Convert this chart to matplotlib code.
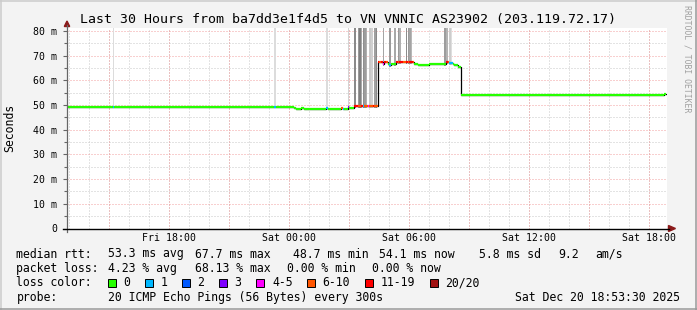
import matplotlib
matplotlib.use('Agg')
import matplotlib.pyplot as plt
import matplotlib.dates as mdates
from matplotlib.lines import Line2D
from matplotlib.patches import Polygon, Rectangle
from datetime import datetime, timedelta
import numpy as np

W, H = 697, 310
FONT = 'DejaVu Sans Mono'

title = "Last 30 Hours from ba7dd3e1f4d5 to VN VNNIC AS23902 (203.119.72.17)"
end_time = datetime(2025, 12, 20, 18, 53, 30)
span_hours = 30
first_step = datetime(2025, 12, 19, 12, 55, 0)
step_minutes = 5

# median rtt (ms) and loss class per 5-minute step, as runs
run_len = [27, 1, 96, 1, 11, 1, 3, 2, 13, 1, 8, 1, 1, 2, 1, 3,
           1, 1, 1, 1, 1, 1, 1, 1, 1, 1, 1, 1, 1, 1,
           1, 1, 1, 1, 1, 1, 1, 1, 1, 2,
           1, 1, 1, 1, 1, 1, 1, 1, 1, 1, 1,
           1, 1, 1, 1, 1, 1, 1, 1, 1, 1, 1, 1, 1, 1, 1, 1, 1, 1, 1,
           1, 1, 1, 1, 1, 2, 2, 122, 1]
run_med = [49.4, 49.4, 49.4, 49.4, 49.4, 49.0, 48.5, 48.8, 48.5, 48.6, 48.5, 48.9, 48.4, 48.5, 49.2, 48.6,
           49.8, 49.8, 49.8, 49.8, 49.8, 49.8, 49.8, 49.8, 49.8, 49.8, 49.8, 49.8, 49.8, 49.8,
           67.6, 67.6, 67.6, 66.8, 67.3, 67.3, 66.6, 66.3, 66.6, 66.6,
           67.6, 67.6, 67.6, 67.6, 67.6, 67.6, 67.6, 67.6, 67.6, 67.6, 67.6,
           66.6, 66.5, 66.4, 66.3, 66.2, 66.2, 66.3, 66.3, 66.4, 66.5, 66.6, 66.6, 66.6, 66.7, 66.7, 66.6, 66.6, 66.7, 66.6,
           67.3, 67.3, 66.9, 67.0, 66.8, 66.2, 65.6, 53.9, 54.4]
run_loss = [0, 1, 0, 1, 0, 0, 0, 0, 0, 1, 0, 5, 1, 0, 3, 0,
            6, 6, 5, 5, 6, 1, 5, 5, 4, 5, 5, 6, 5, 5,
            6, 5, 6, 4, 6, 5, 0, 1, 0, 0,
            6, 5, 6, 6, 5, 5, 6, 5, 6, 6, 5,
            0, 0, 0, 0, 0, 0, 0, 0, 0, 0, 0, 0, 0, 0, 0, 0, 0, 0, 0,
            6, 5, 1, 1, 0, 0, 0, 0, 0]

loss_labels = ['0', '1', '2', '3', '4-5', '6-10', '11-19', '20/20']
loss_colors = ['#26ff00', '#00b8ff', '#0059ff', '#7e00ff', '#ff00ff', '#ff5500', '#ff0000', '#a01010']

# smoke (spread of the pings) reaching above the chart at these steps
smoke_steps = [27, 124, 155, 168, 172, 174, 175, 176, 177, 178, 179, 181, 182, 184, 185,
               189, 193, 196, 198, 199, 203, 204, 205, 206, 226, 227, 229, 230]
smoke_shade = ['#dcdcdc', '#dcdcdc', '#dcdcdc', '#d4d4d4', '#8a8a8a', '#9a9a9a', '#7f7f7f', '#a8a8a8',
               '#8f8f8f', '#9c9c9c', '#b0b0b0', '#c8c8c8', '#d0d0d0', '#a0a0a0', '#8a8a8a',
               '#a5a5a5', '#9a9a9a', '#a8a8a8', '#999999', '#b0b0b0', '#8c8c8c', '#9a9a9a', '#a4a4a4', '#b8b8b8',
               '#9d9d9d', '#b4b4b4', '#cdcdcd', '#dedede']
smoke_top = 95.0

y_ticks = [0, 10, 20, 30, 40, 50, 60, 70, 80]
y_tick_labels = ['0', '10 m', '20 m', '30 m', '40 m', '50 m', '60 m', '70 m', '80 m']
y_minor = [5, 15, 25, 35, 45, 55, 65, 75]

row_rtt = [('median rtt:', 16.4), ('53.3 ms avg', 107.6), ('67.7 ms max', 194.7),
           ('48.7 ms min', 293.0), ('54.1 ms now', 378.7), ('5.8 ms sd', 479.0),
           ('9.2', 558.0), ('am/s', 595.6)]
row_loss = [('packet loss:', 16.4), ('4.23 % avg', 107.6), ('68.13 % max', 194.7),
            ('0.00 % min', 286.7), ('0.00 % now', 372.4)]
box_x = [108, 145, 182, 219, 256.4, 306.7, 365, 429.8]
probe_text = '20 ICMP Echo Pings (56 Bytes) every 300s'
date_text = 'Sat Dec 20 18:53:30 2025'

# ---------------------------------------------------------------
med = np.repeat(run_med, run_len)
loss = np.repeat(run_loss, run_len)
n = len(med)
t0 = mdates.date2num(first_step)
dt = step_minutes / 1440.0
left = t0 + np.arange(n) * dt
right = left + dt

fig = plt.figure(figsize=(W / 100, H / 100), dpi=100)
fig.patch.set_facecolor('#F3F3F3')

def fx(x):
    return x / W

def fy(y):
    return 1 - y / H

ax_l, ax_r, ax_t, ax_b = 67, 667, 28, 228.5
ax = fig.add_axes([fx(ax_l), fy(ax_b), (ax_r - ax_l) / W, (ax_b - ax_t) / H])
ax.set_facecolor('white')
for s in ax.spines.values():
    s.set_visible(False)

x_end = mdates.date2num(end_time)
x_start = mdates.date2num(end_time - timedelta(hours=span_hours))
ax.set_xlim(x_start, x_end)
ax.set_ylim(0, 81.2)

# grid
minor_h = mdates.HourLocator(interval=1).tick_values(end_time - timedelta(hours=span_hours), end_time)
major_h = mdates.HourLocator(byhour=range(0, 24, 3)).tick_values(end_time - timedelta(hours=span_hours), end_time)
for v in minor_h:
    if x_start < v < x_end:
        ax.axvline(v, color='#c8c8c8', lw=0.72, ls=(0, (1, 2)), zorder=1)
for v in major_h:
    if x_start < v < x_end:
        ax.axvline(v, color='#f2a0a0', lw=0.72, ls=(0, (1, 2)), zorder=1.1)
for v in y_minor:
    ax.axhline(v, color='#c8c8c8', lw=0.72, ls=(0, (1, 2)), zorder=1)
for v in y_ticks[1:]:
    ax.axhline(v, color='#f2a0a0', lw=0.72, ls=(0, (1, 2)), zorder=1.1)

# smoke
idx = np.array(smoke_steps)
ax.bar(left[idx], smoke_top - (med[idx] - 0.8), width=dt, bottom=med[idx] - 0.8,
       align='edge', color=smoke_shade, linewidth=0, zorder=2)

# median: black connecting step then colored segments
edges = np.append(left, right[-1])
ax.step(edges, np.append(med, med[-1]), where='post', color='black', lw=0.9, zorder=3)
ax.hlines(med, left, right, colors=[loss_colors[k] for k in loss], lw=1.6, zorder=4,
          capstyle='butt')

# ticks
ax.set_yticks(y_ticks)
ax.set_yticklabels(y_tick_labels)
ax.set_yticks(y_minor, minor=True)
ax.tick_params(axis='y', which='major', length=3, width=0.8, color='#666666', pad=4,
               labelsize=7.1, labelcolor='black')
ax.tick_params(axis='y', which='minor', length=2, width=0.8, color='#666666')
ax.xaxis.set_major_locator(mdates.HourLocator(byhour=[0, 6, 12, 18]))
ax.xaxis.set_major_formatter(mdates.DateFormatter('%a %H:%M'))
ax.tick_params(axis='x', which='major', length=0, pad=3.2, labelsize=7.1, labelcolor='black')
for lab in ax.get_xticklabels() + ax.get_yticklabels():
    lab.set_family(FONT)

# axis lines with arrows
fig.add_artist(Line2D([fx(ax_l), fx(ax_l)], [fy(232), fy(25)], color='#666666', lw=0.9))
fig.add_artist(Line2D([fx(63), fx(669)], [fy(ax_b), fy(ax_b)], color='black', lw=1.0))
fig.add_artist(Polygon([[fx(67), fy(21)], [fx(64.3), fy(26.5)], [fx(69.7), fy(26.5)]],
                       closed=True, color='#8b1a1a', transform=fig.transFigure))
fig.add_artist(Polygon([[fx(675.5), fy(ax_b)], [fx(668.5), fy(225.5)], [fx(668.5), fy(231.5)]],
                       closed=True, color='#8b1a1a', transform=fig.transFigure))

# titles
fig.text(fx(347.5), fy(19), title, ha='center', va='center', family=FONT, size=9.55)
fig.text(fx(10), fy(128), 'Seconds', ha='center', va='center', rotation=90, family=FONT, size=8.3)
fig.text(fx(687.5), fy(59), 'RRDTOOL / TOBI OETIKER', ha='center', va='center', rotation=270,
         family=FONT, size=5.9, color='#a0a0a0')

# legend
LS = 8.3
for txt, x in row_rtt:
    fig.text(fx(x), fy(254), txt, ha='left', va='center', family=FONT, size=LS)
for txt, x in row_loss:
    fig.text(fx(x), fy(268.5), txt, ha='left', va='center', family=FONT, size=LS)
fig.text(fx(16.4), fy(283), 'loss color:', ha='left', va='center', family=FONT, size=LS)
for bx, col, lab in zip(box_x, loss_colors, loss_labels):
    fig.add_artist(Rectangle((fx(bx), fy(287)), 8 / W, 8 / H, facecolor=col, edgecolor='black',
                             lw=0.7, transform=fig.transFigure))
    fig.text(fx(bx + 15.6), fy(283), lab, ha='left', va='center', family=FONT, size=LS)
fig.text(fx(16.4), fy(297.5), 'probe:', ha='left', va='center', family=FONT, size=LS)
fig.text(fx(107.6), fy(297.5), probe_text, ha='left', va='center', family=FONT, size=LS)
fig.text(fx(680), fy(297.5), date_text, ha='right', va='center', family=FONT, size=LS)

# frame shading
fig.add_artist(Line2D([0, 1], [fy(0.75), fy(0.75)], color='#cbcbcb', lw=1.1))
fig.add_artist(Line2D([fx(0.75), fx(0.75)], [0, 1], color='#cbcbcb', lw=1.1))
fig.add_artist(Line2D([0, 1], [fy(H - 0.75), fy(H - 0.75)], color='#999999', lw=1.1))
fig.add_artist(Line2D([fx(W - 0.75), fx(W - 0.75)], [0, 1], color='#999999', lw=1.1))

fig.savefig('out.png', dpi=100, facecolor=fig.get_facecolor())
